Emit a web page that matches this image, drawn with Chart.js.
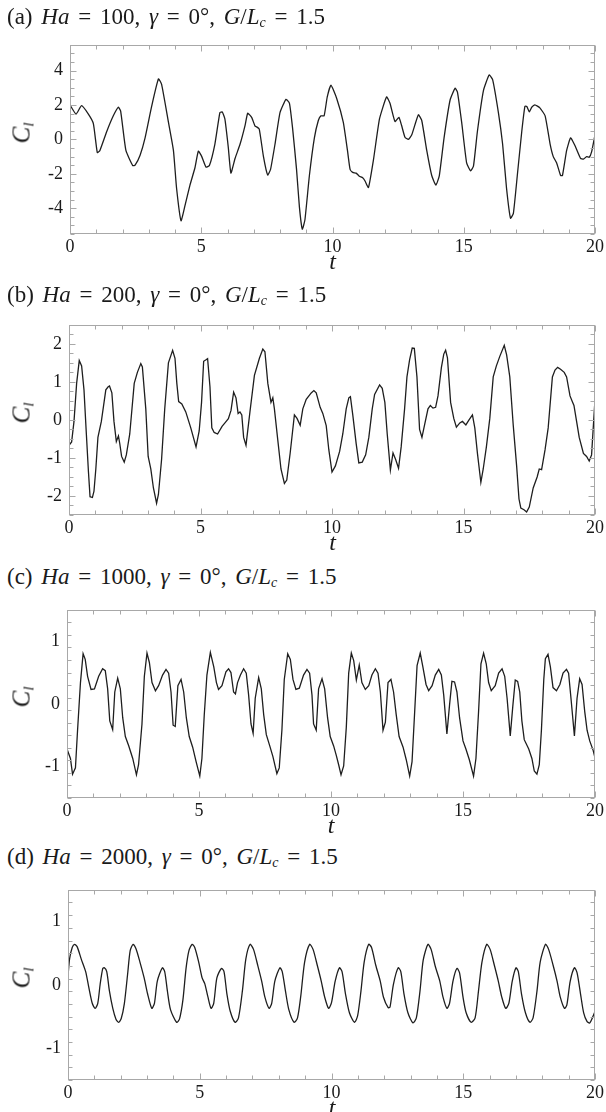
<!DOCTYPE html>
<html><head><meta charset="utf-8">
<script src="https://cdn.jsdelivr.net/npm/chart.js@4/dist/chart.umd.min.js"></script>
<style>
html,body{margin:0;padding:0;background:#fff;}
#wrap{position:relative;width:606px;height:1112px;overflow:hidden;font-family:"Liberation Serif","Times New Roman",serif;color:#1a1a1a;}
canvas{position:absolute;left:0;}
.ttl{position:absolute;left:7px;font-size:23px;white-space:nowrap;line-height:1;word-spacing:3px;}
.ttl sub{font-size:14px;vertical-align:-3px;line-height:0;}
.xl{position:absolute;font-style:italic;font-size:24px;line-height:1;transform:translateX(-50%);}
.yl{position:absolute;font-style:italic;font-size:25px;line-height:1;transform:translate(-50%,-50%) rotate(-90deg);white-space:nowrap;}
.yl sub{font-size:15px;vertical-align:-4px;line-height:0;}
</style></head><body><div id="wrap"></div>
<script>
// ---- data (t, C_l) ----
const xTicks = [0, 5, 10, 15, 20];
const yTicksA = [-4, -2, 0, 2, 4];
const yTicksB = [-2, -1, 0, 1, 2];
const yTicksC = [-1, 0, 1];
const yTicksD = [-1, 0, 1];

const titleA = '(a) <i>Ha</i> = 100, <i>γ</i> = 0°, <i>G</i>/<i>L<sub>c</sub></i> = 1.5';
const titleB = '(b) <i>Ha</i> = 200, <i>γ</i> = 0°, <i>G</i>/<i>L<sub>c</sub></i> = 1.5';
const titleC = '(c) <i>Ha</i> = 1000, <i>γ</i> = 0°, <i>G</i>/<i>L<sub>c</sub></i> = 1.5';
const titleD = '(d) <i>Ha</i> = 2000, <i>γ</i> = 0°, <i>G</i>/<i>L<sub>c</sub></i> = 1.5';

const clA = [[0,2.0],[0.23,1.47],[0.44,1.96],[0.7,1.47],[0.89,0.92],[1.04,-0.77],[1.14,-0.64],[1.4,0.46],[1.65,1.37],[1.84,1.87],[1.93,1.65],[2.13,-0.64],[2.39,-1.52],[2.48,-1.5],[2.67,-0.92],[2.86,0.09],[3.11,1.92],[3.37,3.52],[3.49,3.2],[3.75,1.0],[3.94,-0.64],[4.06,-2.84],[4.23,-4.73],[4.38,-3.85],[4.57,-2.66],[4.76,-1.65],[4.89,-0.68],[5.02,-1.0],[5.18,-1.61],[5.31,-1.52],[5.52,-0.27],[5.71,1.56],[5.8,1.6],[5.9,1.19],[6.03,-0.46],[6.13,-1.96],[6.29,-1.1],[6.48,-0.27],[6.67,0.82],[6.77,1.52],[6.92,1.28],[7.05,0.77],[7.11,0.73],[7.21,0.6],[7.37,-1.0],[7.53,-2.07],[7.64,-1.74],[7.81,-0.27],[8.0,1.56],[8.23,2.33],[8.36,2.1],[8.48,0.64],[8.63,-1.74],[8.74,-3.94],[8.85,-5.22],[8.95,-4.67],[9.12,-2.1],[9.31,0.09],[9.46,1.1],[9.56,1.37],[9.68,1.37],[9.8,2.47],[9.94,3.15],[10.16,2.38],[10.41,1.0],[10.57,-0.64],[10.67,-1.74],[10.77,-1.92],[10.9,-1.96],[11.02,-2.14],[11.15,-2.23],[11.24,-2.42],[11.37,-2.8],[11.56,-1.19],[11.79,1.19],[12.06,2.47],[12.19,2.1],[12.38,1.04],[12.53,1.28],[12.63,0.82],[12.76,0.13],[12.89,0.0],[13.02,0.27],[13.27,1.43],[13.4,1.1],[13.59,-0.64],[13.78,-2.1],[13.94,-2.66],[14.07,-2.1],[14.25,0.09],[14.48,2.29],[14.67,2.97],[14.76,2.75],[14.92,1.0],[15.11,-1.37],[15.26,-1.83],[15.37,-1.56],[15.52,0.46],[15.75,2.84],[15.97,3.75],[16.1,3.48],[16.32,1.56],[16.48,-0.27],[16.63,-2.84],[16.78,-4.58],[16.89,-4.3],[17.04,-2.1],[17.21,0.46],[17.33,1.92],[17.4,1.92],[17.5,1.6],[17.59,1.87],[17.71,2.01],[17.9,1.83],[18.1,1.37],[18.29,-0.27],[18.41,-1.0],[18.54,-1.37],[18.69,-2.1],[18.76,-2.1],[18.92,-0.64],[19.07,0.09],[19.24,-0.37],[19.45,-1.1],[19.56,-1.15],[19.68,-1.0],[19.78,-1.04],[19.87,-0.73],[20.0,0.27]];

const clB = [[0,-0.67],[0.1,-0.58],[0.19,-0.04],[0.29,0.96],[0.39,1.56],[0.48,1.42],[0.57,0.79],[0.66,-0.37],[0.74,-1.37],[0.8,-2.02],[0.89,-2.04],[0.95,-1.87],[1.02,-1.29],[1.1,-0.46],[1.23,-0.04],[1.4,0.79],[1.49,0.87],[1.54,0.89],[1.63,0.71],[1.71,-0.04],[1.8,-0.57],[1.88,-0.42],[1.93,-0.62],[2.0,-0.96],[2.1,-1.11],[2.18,-0.92],[2.31,-0.37],[2.48,0.96],[2.6,1.25],[2.73,1.48],[2.79,1.39],[2.92,0.29],[3.01,-0.96],[3.11,-1.29],[3.21,-1.79],[3.33,-2.19],[3.4,-1.96],[3.52,-1.04],[3.64,0.29],[3.78,1.5],[3.94,1.83],[4.03,1.62],[4.1,0.96],[4.17,0.48],[4.29,0.42],[4.44,0.21],[4.63,-0.21],[4.83,-0.71],[4.95,-0.29],[5.04,0.46],[5.12,1.54],[5.21,1.58],[5.27,1.61],[5.36,0.87],[5.43,-0.21],[5.52,-0.33],[5.65,-0.37],[5.82,-0.17],[5.93,-0.08],[6.06,0.03],[6.16,0.25],[6.26,0.73],[6.35,0.58],[6.43,0.17],[6.5,0.21],[6.57,0.13],[6.64,-0.46],[6.73,-0.67],[6.88,0.21],[7.05,1.17],[7.24,1.62],[7.37,1.86],[7.45,1.79],[7.56,0.96],[7.68,0.46],[7.75,0.58],[7.81,0.29],[7.94,-0.54],[8.06,-1.29],[8.19,-1.67],[8.28,-1.58],[8.41,-0.87],[8.57,0.13],[8.67,0.04],[8.79,-0.14],[8.89,0.29],[9.02,0.54],[9.21,0.71],[9.31,0.77],[9.4,0.71],[9.55,0.33],[9.65,0.17],[9.78,-0.15],[9.88,-0.79],[10.0,-1.37],[10.13,-1.21],[10.29,-0.83],[10.41,-0.37],[10.54,0.29],[10.64,0.58],[10.7,0.61],[10.79,0.13],[10.92,-0.63],[11.02,-1.13],[11.15,-1.11],[11.28,-0.92],[11.4,-0.46],[11.53,0.29],[11.62,0.67],[11.81,0.92],[11.91,0.83],[12.01,0.46],[12.1,-0.37],[12.22,-1.32],[12.32,-0.87],[12.42,-1.04],[12.53,-1.27],[12.63,-0.71],[12.76,0.29],[12.85,1.13],[12.95,1.58],[13.05,1.89],[13.13,1.88],[13.23,1.13],[13.33,-0.25],[13.42,-0.46],[13.52,-0.13],[13.65,0.29],[13.74,0.38],[13.84,0.31],[13.94,0.33],[14.03,0.63],[14.16,1.38],[14.25,1.73],[14.32,1.83],[14.39,1.63],[14.51,0.46],[14.63,0.04],[14.73,-0.19],[14.86,-0.08],[14.96,-0.04],[15.09,-0.13],[15.21,0.0],[15.34,0.13],[15.43,-0.21],[15.53,-0.88],[15.66,-1.64],[15.75,-1.29],[15.87,-0.71],[16.0,0.04],[16.13,1.13],[16.25,1.42],[16.38,1.67],[16.55,1.96],[16.64,1.71],[16.76,1.13],[16.89,-0.13],[17.02,-1.21],[17.11,-2.08],[17.18,-2.32],[17.3,-2.36],[17.4,-2.42],[17.5,-2.29],[17.65,-1.79],[17.8,-1.5],[17.88,-1.29],[17.97,-1.31],[18.1,-0.79],[18.22,-0.21],[18.38,1.13],[18.48,1.31],[18.58,1.38],[18.69,1.33],[18.83,1.25],[18.92,1.13],[19.05,0.63],[19.14,0.48],[19.2,0.38],[19.3,-0.04],[19.4,-0.46],[19.56,-0.88],[19.68,-0.96],[19.78,-1.08],[19.87,-0.92],[20.0,0.54]];

const clC = [[0,-0.72],[0.13,-0.87],[0.21,-1.12],[0.32,-1.02],[0.4,-0.42],[0.51,0.34],[0.61,0.8],[0.69,0.71],[0.78,0.44],[0.91,0.23],[1.04,0.24],[1.2,0.44],[1.35,0.56],[1.45,0.53],[1.54,0.24],[1.62,-0.27],[1.73,-0.41],[1.81,0.19],[1.92,0.41],[2.02,0.24],[2.11,-0.22],[2.21,-0.52],[2.34,-0.67],[2.49,-0.87],[2.63,-1.13],[2.71,-0.97],[2.84,-0.32],[2.93,0.44],[3.03,0.81],[3.12,0.66],[3.22,0.34],[3.35,0.21],[3.47,0.29],[3.62,0.46],[3.75,0.55],[3.85,0.49],[3.94,0.19],[4.02,-0.34],[4.1,-0.36],[4.2,0.29],[4.32,0.39],[4.42,0.19],[4.52,-0.22],[4.63,-0.52],[4.76,-0.69],[4.89,-0.92],[5.03,-1.15],[5.11,-0.87],[5.2,-0.17],[5.3,0.46],[5.43,0.82],[5.56,0.59],[5.66,0.34],[5.74,0.23],[5.87,0.29],[6.02,0.51],[6.12,0.56],[6.21,0.5],[6.31,0.19],[6.38,0.16],[6.46,0.34],[6.57,0.46],[6.69,0.56],[6.79,0.49],[6.88,0.14],[6.97,-0.32],[7.05,-0.47],[7.13,0.09],[7.26,0.42],[7.36,0.24],[7.45,-0.17],[7.55,-0.49],[7.68,-0.67],[7.8,-0.84],[7.95,-1.11],[8.04,-1.02],[8.14,-0.42],[8.23,0.39],[8.36,0.8],[8.46,0.71],[8.56,0.39],[8.67,0.23],[8.8,0.25],[8.96,0.46],[9.09,0.55],[9.19,0.49],[9.28,0.14],[9.34,-0.32],[9.44,-0.42],[9.53,0.24],[9.66,0.4],[9.76,0.24],[9.87,-0.22],[9.97,-0.52],[10.1,-0.67],[10.2,-0.82],[10.29,-0.97],[10.38,-1.13],[10.48,-0.99],[10.58,-0.37],[10.67,0.49],[10.77,0.81],[10.86,0.69],[10.96,0.38],[11.07,0.62],[11.17,0.34],[11.3,0.23],[11.43,0.29],[11.55,0.46],[11.68,0.56],[11.78,0.49],[11.87,0.19],[11.97,-0.42],[12.06,-0.29],[12.16,0.34],[12.27,0.39],[12.37,0.19],[12.47,-0.17],[12.58,-0.52],[12.73,-0.69],[12.85,-0.89],[12.98,-1.15],[13.07,-0.92],[13.17,-0.12],[13.26,0.61],[13.38,0.81],[13.48,0.59],[13.6,0.31],[13.7,0.21],[13.83,0.29],[13.95,0.46],[14.08,0.55],[14.18,0.46],[14.27,0.14],[14.39,-0.48],[14.49,-0.02],[14.58,0.36],[14.68,0.35],[14.77,0.19],[14.87,-0.22],[15.0,-0.59],[15.11,-0.72],[15.24,-0.89],[15.4,-1.15],[15.49,-0.87],[15.59,-0.12],[15.68,0.64],[15.78,0.81],[15.88,0.64],[15.97,0.34],[16.07,0.21],[16.22,0.29],[16.35,0.49],[16.48,0.56],[16.58,0.44],[16.67,0.09],[16.79,-0.51],[16.89,-0.02],[16.98,0.38],[17.07,0.36],[17.15,0.19],[17.23,-0.27],[17.32,-0.57],[17.49,-0.72],[17.61,-0.87],[17.7,-1.07],[17.8,-1.12],[17.89,-0.97],[17.97,-0.42],[18.06,0.39],[18.12,0.72],[18.22,0.79],[18.31,0.59],[18.41,0.26],[18.54,0.21],[18.67,0.31],[18.79,0.49],[18.92,0.55],[19.0,0.49],[19.09,0.09],[19.22,-0.51],[19.32,0.09],[19.42,0.4],[19.51,0.31],[19.61,-0.12],[19.7,-0.42],[19.8,-0.59],[19.93,-0.74],[20.0,-0.86]];

const clD = [[0,0.14],[0.06,0.41],[0.16,0.59],[0.25,0.64],[0.35,0.6],[0.5,0.41],[0.67,0.21],[0.79,-0.04],[0.92,-0.29],[1.03,-0.37],[1.13,-0.29],[1.22,0.01],[1.32,0.26],[1.38,0.27],[1.47,0.21],[1.57,-0.09],[1.7,-0.37],[1.82,-0.54],[1.92,-0.59],[2.02,-0.53],[2.14,-0.29],[2.26,0.16],[2.36,0.54],[2.47,0.64],[2.58,0.57],[2.73,0.36],[2.89,0.11],[3.02,-0.14],[3.18,-0.37],[3.28,-0.29],[3.39,0.06],[3.58,0.27],[3.67,0.21],[3.77,-0.09],[3.89,-0.39],[4.12,-0.59],[4.23,-0.54],[4.36,-0.24],[4.48,0.26],[4.59,0.54],[4.71,0.64],[4.81,0.59],[4.96,0.36],[5.09,0.11],[5.19,0.02],[5.31,-0.19],[5.43,-0.37],[5.53,-0.29],[5.65,0.11],[5.82,0.26],[5.92,0.21],[6.03,-0.14],[6.16,-0.42],[6.34,-0.59],[6.47,-0.52],[6.62,-0.09],[6.75,0.41],[6.91,0.64],[7.04,0.56],[7.2,0.31],[7.35,0.06],[7.47,-0.19],[7.63,-0.37],[7.73,-0.29],[7.85,0.06],[8.04,0.27],[8.13,0.21],[8.25,-0.09],[8.38,-0.39],[8.58,-0.59],[8.71,-0.52],[8.83,-0.19],[8.98,0.36],[9.17,0.64],[9.3,0.56],[9.46,0.31],[9.61,0.06],[9.74,-0.19],[9.89,-0.37],[10.0,-0.28],[10.14,0.06],[10.3,0.27],[10.4,0.21],[10.53,-0.14],[10.68,-0.44],[10.87,-0.59],[10.99,-0.49],[11.12,-0.09],[11.24,0.36],[11.41,0.64],[11.52,0.59],[11.68,0.31],[11.85,0.06],[11.97,-0.19],[12.15,-0.36],[12.22,-0.35],[12.35,0.01],[12.53,0.27],[12.63,0.21],[12.75,-0.14],[12.9,-0.44],[13.09,-0.6],[13.22,-0.52],[13.36,-0.09],[13.48,0.39],[13.66,0.64],[13.78,0.56],[13.94,0.29],[14.11,0.06],[14.23,-0.19],[14.38,-0.37],[14.48,-0.29],[14.61,0.06],[14.76,0.26],[14.86,0.19],[14.99,-0.19],[15.11,-0.44],[15.3,-0.59],[15.45,-0.52],[15.58,-0.09],[15.71,0.36],[15.89,0.64],[16.02,0.56],[16.18,0.31],[16.33,0.06],[16.46,-0.19],[16.61,-0.37],[16.73,-0.29],[16.86,0.06],[17.0,0.27],[17.09,0.21],[17.21,-0.14],[17.36,-0.44],[17.53,-0.59],[17.65,-0.52],[17.8,-0.09],[17.92,0.36],[18.12,0.64],[18.24,0.56],[18.41,0.31],[18.56,0.06],[18.68,-0.19],[18.84,-0.37],[18.93,-0.32],[19.06,0.06],[19.22,0.27],[19.32,0.19],[19.45,-0.14],[19.57,-0.44],[19.7,-0.58],[19.8,-0.6],[19.9,-0.52],[20.0,-0.42]];

// ---- layout / style ----
const SERIF = '"Liberation Serif", "Times New Roman", serif';
const panels = [
  {title:titleA, data:clA, yTicks:yTicksA, ymin:-5.5, ymax:5.5, yMinor:0.5, top:35, bottom:234, left:70, right:595, titleTop:5, tension:0.15},
  {title:titleB, data:clB, yTicks:yTicksB, ymin:-2.5, ymax:2.5, yMinor:0.25, top:315, bottom:515, left:69, right:596, titleTop:283, tension:0},
  {title:titleC, data:clC, yTicks:yTicksC, ymin:-1.5, ymax:1.5, yMinor:0.2, top:600, bottom:798, left:67, right:595, titleTop:565, tension:0},
  {title:titleD, data:clD, yTicks:yTicksD, ymin:-1.5, ymax:1.5, yMinor:0.2, top:880, bottom:1080, left:68, right:596, titleTop:845, tension:0.25}
];
const FRAME = '#a8a8a8';
const LINE = '#1e1e1e';
const TEXT = '#1a1a1a';

const frameTicks = {
  id: 'frameTicks',
  afterDatasetsDraw(chart, args, opts) {
    const {ctx, chartArea: a, scales: {x, y}} = chart;
    ctx.save();
    ctx.strokeStyle = FRAME;
    ctx.lineWidth = 1;
    const seg = (x1, y1, x2, y2) => { ctx.beginPath(); ctx.moveTo(x1, y1); ctx.lineTo(x2, y2); ctx.stroke(); };
    const L = Math.round(a.left) + 0.5, R = Math.round(a.right) - 0.5;
    const T = Math.round(a.top) + 0.5, B = Math.round(a.bottom) - 0.5;
    ctx.strokeRect(L, T, R - L, B - T);
    for (let i = 0; i <= 20; i++) {
      const v = x.min + i * opts.xMinor;
      if (v > x.max + 1e-9) break;
      const major = Math.abs(v / opts.xMajor - Math.round(v / opts.xMajor)) < 1e-6;
      const len = major ? 6 : 4;
      const px = Math.round(x.getPixelForValue(v)) + 0.5;
      seg(px, B, px, B - len);
      seg(px, T, px, T + len);
    }
    const n = Math.round((y.max - y.min) / opts.yMinor);
    for (let i = 0; i <= n; i++) {
      const v = y.min + i * opts.yMinor;
      const major = opts.yTicks.some(t => Math.abs(t - v) < 1e-6);
      const len = major ? 6 : 4;
      const py = Math.round(y.getPixelForValue(v)) + 0.5;
      seg(L, py, L + len, py);
      seg(R, py, R - len, py);
    }
    ctx.restore();
  }
};

const wrap = document.getElementById('wrap');

panels.forEach(p => {
  const padTop = 8, axisH = 30;
  const cTop = p.top - padTop;
  const cH = (p.bottom + axisH) - cTop;
  const cv = document.createElement('canvas');
  cv.width = 606; cv.height = cH;
  cv.style.top = cTop + 'px';
  cv.style.width = '606px'; cv.style.height = cH + 'px';
  wrap.appendChild(cv);

  const t = document.createElement('div');
  t.className = 'ttl'; t.style.top = p.titleTop + 'px'; t.innerHTML = p.title;
  wrap.appendChild(t);

  const xl = document.createElement('div');
  xl.className = 'xl'; xl.textContent = 't';
  xl.style.left = ((p.left + p.right) / 2) + 'px';
  xl.style.top = (p.bottom + 15) + 'px';
  wrap.appendChild(xl);

  const yl = document.createElement('div');
  yl.className = 'yl'; yl.innerHTML = 'C<sub>l</sub>';
  yl.style.left = '21px';
  yl.style.top = ((p.top + p.bottom) / 2 - 2) + 'px';
  wrap.appendChild(yl);

  new Chart(cv, {
    type: 'line',
    data: { datasets: [{
      data: p.data.map(d => ({x: d[0], y: d[1]})),
      borderColor: LINE, borderWidth: 1.3, pointRadius: 0, tension: p.tension, fill: false
    }]},
    options: {
      responsive: false, animation: false, devicePixelRatio: 1,
      layout: { padding: { top: padTop, bottom: 0, left: 0, right: 606 - p.right } },
      plugins: { legend: {display: false}, tooltip: {enabled: false}, title: {display: false},
                 frameTicks: { xMajor: 5, xMinor: 1, yMinor: p.yMinor, yTicks: p.yTicks } },
      scales: {
        x: {
          type: 'linear', min: 0, max: 20,
          grid: {display: false, drawTicks: false}, border: {display: false},
          afterBuildTicks: s => { s.ticks = xTicks.map(v => ({value: v})); },
          afterFit: s => { s.height = axisH; },
          ticks: { padding: 2, color: TEXT, maxRotation: 0, autoSkip: false,
                   font: {family: SERIF, size: 18} }
        },
        y: {
          type: 'linear', min: p.ymin, max: p.ymax,
          grid: {display: false, drawTicks: false}, border: {display: false},
          afterBuildTicks: s => { s.ticks = p.yTicks.map(v => ({value: v})); },
          afterFit: s => { s.width = p.left; },
          ticks: { padding: 7, color: TEXT, autoSkip: false,
                   font: {family: SERIF, size: 18} }
        }
      }
    },
    plugins: [frameTicks]
  });
});
</script></body></html>
